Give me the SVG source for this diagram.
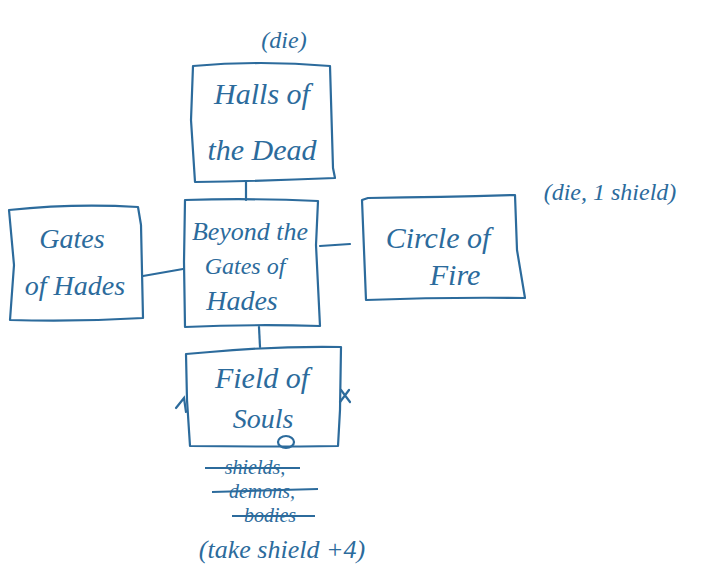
<svg xmlns="http://www.w3.org/2000/svg" width="705" height="580" viewBox="0 0 705 580">
<style>
.box{fill:none;stroke:#2c6b9c;stroke-width:2.2;stroke-linejoin:round;stroke-linecap:round}
.ln{fill:none;stroke:#2c6b9c;stroke-width:2.2;stroke-linecap:round}
.t{font-family:"Liberation Serif",serif;font-style:italic;fill:#2c6b9c;text-anchor:middle}
.strike{stroke:#2c6b9c;stroke-width:2;fill:none}
</style>
<rect width="705" height="580" fill="#ffffff"/>
<g id="connectors">
<path class="ln" d="M246 182 L246 200"/>
<path class="ln" d="M143 276 L183 269"/>
<path class="ln" d="M320 246 L350 244"/>
<path class="ln" d="M259 327 L260 347"/>
</g>
<g id="halls">
<path class="box" d="M193 66 Q260 60 330 66 L333 168 L335 178 Q265 181 195 182 L191 120 Z"/>
<text class="t" x="262" y="104" style="font-size:30px">Halls of</text>
<text class="t" x="262" y="160" style="font-size:30px">the Dead</text>
<text class="t" x="284" y="48" style="font-size:24px">(die)</text>
</g>
<g id="gates">
<path class="box" d="M9 210 Q75 203 138 207 L141 225 L143 318 Q75 322 10 320 L14 265 Z"/>
<text class="t" x="72" y="248" style="font-size:28px">Gates</text>
<text class="t" x="75" y="295" style="font-size:28px">of Hades</text>
</g>
<g id="beyond">
<path class="box" d="M185 200 Q252 198 318 201 L316 245 L320 326 Q252 324 185 327 L184 262 Z"/>
<text class="t" x="250" y="240" style="font-size:26px">Beyond the</text>
<text class="t" x="245" y="274" style="font-size:24px">Gates of</text>
<text class="t" x="242" y="310" style="font-size:28px">Hades</text>
</g>
<g id="circle">
<path class="box" d="M362 200 L368 198 Q445 197 515 195 L517 250 L525 298 Q445 297 366 300 L364 250 Z"/>
<text class="t" x="438" y="248" style="font-size:30px">Circle of</text>
<text class="t" x="455" y="285" style="font-size:30px">Fire</text>
<text class="t" x="610" y="200" style="font-size:24px">(die, 1 shield)</text>
</g>
<g id="field">
<path class="box" d="M186 354 L210 352 Q275 346 341 347 L340 410 L338 446 Q262 447 190 446 L187 400 Z"/>
<text class="t" x="262" y="388" style="font-size:30px">Field of</text>
<text class="t" x="263" y="428" style="font-size:28px">Souls</text>
<path class="ln" d="M176 408 L184 398 L186 412"/>
<path class="ln" d="M341 390 L350 402 M349 390 L340 402"/>
<ellipse class="ln" cx="286" cy="442" rx="8" ry="6"/>
<text class="t" x="255" y="474" style="font-size:20px">shields,</text>
<path class="strike" d="M205 468 L300 468"/>
<text class="t" x="262" y="498" style="font-size:20px">demons,</text>
<path class="strike" d="M212 492 L318 489"/>
<text class="t" x="270" y="522" style="font-size:20px">bodies</text>
<path class="strike" d="M232 516 L315 516"/>
<text class="t" x="282" y="558" style="font-size:26px">(take shield +4)</text>
</g>
</svg>
